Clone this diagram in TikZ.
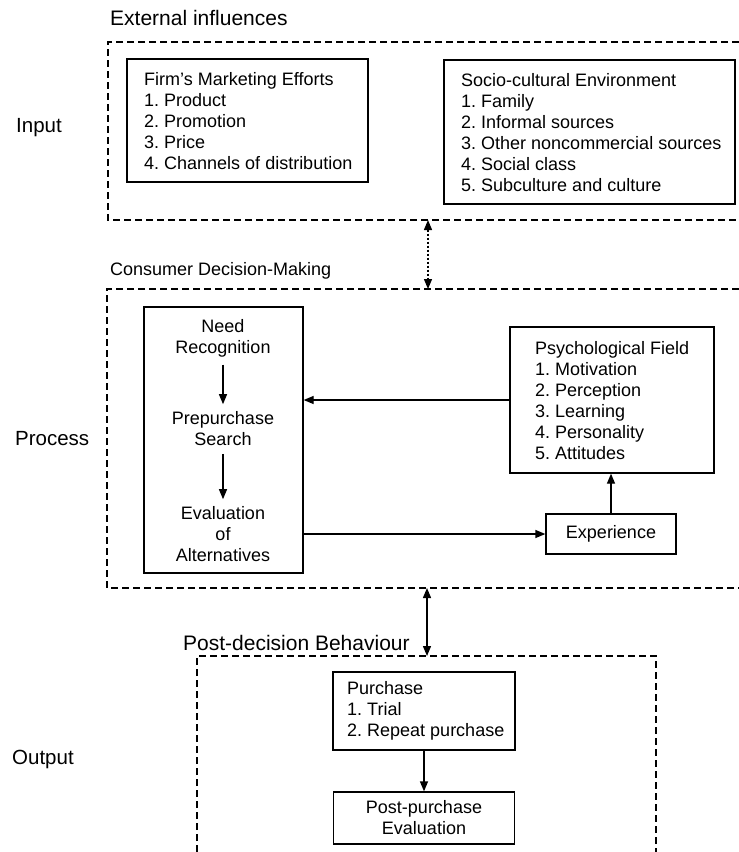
\documentclass[tikz,border=0pt]{standalone}
\usepackage{fontspec}
\setmainfont{Liberation Sans}
\usetikzlibrary{arrows.meta,calc}
\frenchspacing
\begin{document}
\begin{tikzpicture}[x=1pt,y=-1pt,
  frame/.style={draw, line width=1.3pt, inner sep=0pt},
  list/.style={inner sep=0pt, anchor=west, align=left, font=\fontsize{18}{21}\selectfont\frenchspacing},
  box/.style={draw, line width=1.3pt, inner sep=0pt, align=center, font=\fontsize{18}{21}\selectfont},
  intext/.style={inner xsep=0pt, inner ysep=7.5pt, align=center, font=\fontsize{18}{21}\selectfont},
  region/.style={line width=1.1pt, dash pattern=on 7pt off 4pt},
  head/.style={font=\fontsize{21}{25}\selectfont, inner sep=0pt, anchor=west},
  side/.style={font=\fontsize{20.5}{25}\selectfont, inner sep=0pt, anchor=west},
  arr/.style={line width=1.3pt, -{Triangle[length=10pt,width=8pt]}},
  darr/.style={line width=1.3pt, {Triangle[length=10pt,width=8pt]}-{Triangle[length=10pt,width=8pt]}},
]
\useasboundingbox (0,0) rectangle (739,852);
\fill[white] (0,0) rectangle (739,852);

% dashed regions
\draw[region] (739,42) -- (108,42) -- (108,220) -- (739,220);
\draw[region] (739,289) -- (107,289) -- (107,588) -- (739,588);
\draw[region] (197,852) -- (197,656) -- (656,656) -- (656,852);

\coordinate (tb) at (428,220);
\coordinate (mt) at (428,289);
\coordinate (mb) at (427,588);
\coordinate (bt) at (427,656);

% headings and side labels
\node[head] (ext) at (110,18) {External influences};
\node[head, font=\fontsize{18}{21}\selectfont] (cdm) at (110,271) {Consumer Decision-Making};
\node[head] (pdb) at (183,643) {Post-decision Behaviour};
\node[side] (inp) at (16,128) {Input};
\node[side] (proc) at (15,439) {Process};
\node[side] (outp) at (12,759) {Output};

% input boxes
\node[frame, minimum width=241pt, minimum height=123pt] (firm) at (247.5,120.5) {};
\node[list] (firmtxt) at (144,121.5)
  {Firm's Marketing Efforts\\1. Product\\2. Promotion\\3. Price\\4. Channels of distribution};
\node[frame, minimum width=291pt, minimum height=144pt] (socio) at (589.5,132) {};
\node[list] (sociotxt) at (461,133)
  {Socio-cultural Environment\\1. Family\\2. Informal sources\\3. Other noncommercial sources\\4. Social class\\5. Subculture and culture};

% process
\node[frame, minimum width=159pt, minimum height=266pt] (lbox) at (223.5,440) {};
\node[intext] (need) at (223,338) {Need\\Recognition};
\node[intext] (prep) at (223,429) {Prepurchase\\Search};
\node[intext] (eval) at (223,534.5) {Evaluation\\of\\Alternatives};
\node[frame, minimum width=204pt, minimum height=146pt] (psych) at (612,400) {};
\node[list] (psychtxt) at (535,401)
  {Psychological Field\\1. Motivation\\2. Perception\\3. Learning\\4. Personality\\5. Attitudes};
\node[box, minimum width=130pt, minimum height=40pt] (exp) at (611,534) {Experience};

% output
\node[frame, minimum width=182pt, minimum height=78pt] (purch) at (424,711) {};
\node[list] (purchtxt) at (347,711)
  {Purchase\\1. Trial\\2. Repeat purchase};
\node[box, minimum width=181pt, minimum height=52pt] (post) at (424,818)
  {Post-purchase\\Evaluation};

% connectors
\draw[darr, dash pattern=on 2pt off 2pt] (tb) -- (mt);
\draw[darr] (mb) -- (bt);
\draw[arr] (need) -- (prep);
\draw[arr] (prep) -- (eval);
\draw[arr] (psych.west) -- (psych.west -| lbox.east);
\draw[arr] (lbox.east |- exp.west) -- (exp.west);
\draw[arr] (exp.north) -- (exp.north |- psych.south);
\draw[arr] (purch) -- (post);
\end{tikzpicture}
\end{document}
